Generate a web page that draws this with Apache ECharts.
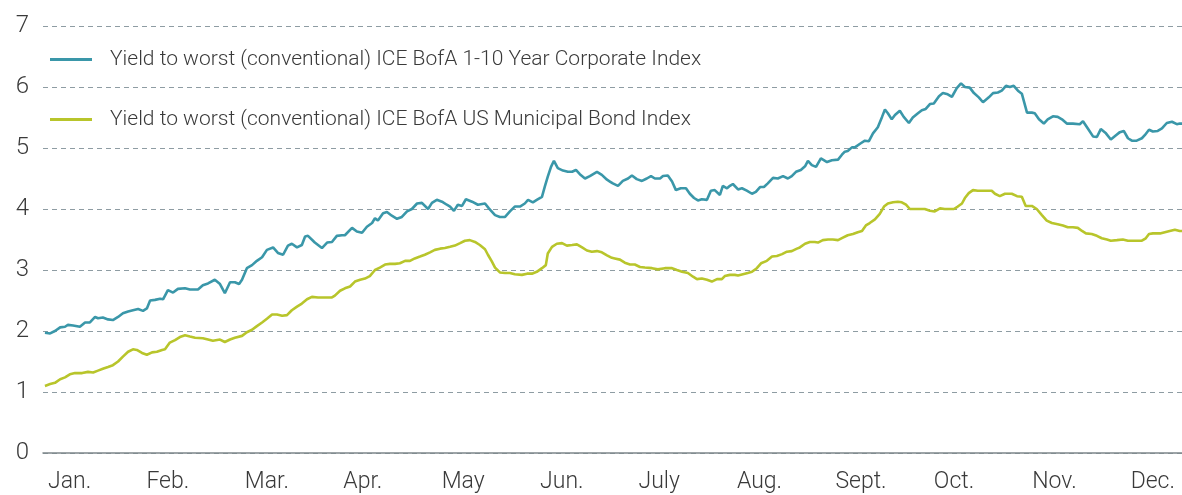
<!DOCTYPE html>
<html>
<head>
<meta charset="utf-8">
<script src="https://cdn.jsdelivr.net/npm/echarts@6/dist/echarts.min.js"></script>
<style>
html, body { margin: 0; padding: 0; background: #fff; }
#chart { width: 1182px; height: 495px; }
</style>
</head>
<body>
<div id="chart"></div>
<script>
// month labels, one per twelfth of the year (day of year)
var months = ['Jan.', 'Feb.', 'Mar.', 'Apr.', 'May', 'Jun.', 'July', 'Aug.', 'Sept.', 'Oct.', 'Nov.', 'Dec.'];
var monthLen = 365 / 12;
var monthTicks = months.map(function(m, i) { return i * monthLen; });
var yTicks = [0, 1, 2, 3, 4, 5, 6, 7];

var names = [
	'Yield to worst (conventional) ICE BofA 1-10 Year Corporate Index',
	'Yield to worst (conventional) ICE BofA US Municipal Bond Index'
];

// [day of year, yield %]
var corpYield = [[0.6,1.97],[2.2,1.96],[3.7,2.00],[5.3,2.06],[6.8,2.07],[7.7,2.10],[9.3,2.09],[11.4,2.07],[13.0,2.14],[14.5,2.14],[16.1,2.23],[17.0,2.21],[18.5,2.22],[20.1,2.19],[21.6,2.18],[23.2,2.23],[24.7,2.29],[26.3,2.32],[27.8,2.34],[29.4,2.36],[30.9,2.33],[32.1,2.37],[33.1,2.50],[34.6,2.51],[36.2,2.53],[37.1,2.52],[38.6,2.67],[40.2,2.63],[41.7,2.69],[43.9,2.70],[45.4,2.68],[47.9,2.68],[49.4,2.75],[51.0,2.78],[53.1,2.84],[54.7,2.77],[56.2,2.62],[57.8,2.80],[59.3,2.80],[60.6,2.77],[61.5,2.84],[63.0,3.03],[64.6,3.08],[66.1,3.15],[67.7,3.21],[69.2,3.33],[71.1,3.37],[72.6,3.28],[74.2,3.25],[75.7,3.40],[76.9,3.43],[78.5,3.37],[80.0,3.41],[81.0,3.55],[81.9,3.56],[84.0,3.45],[86.2,3.36],[87.8,3.45],[89.3,3.46],[90.8,3.56],[92.4,3.57],[93.3,3.57],[95.5,3.69],[97.0,3.63],[98.6,3.61],[100.1,3.71],[101.7,3.77],[102.6,3.85],[103.5,3.81],[105.1,3.93],[106.3,3.95],[107.8,3.89],[109.4,3.84],[110.9,3.87],[112.5,3.96],[114.0,4.00],[115.6,4.09],[117.1,4.10],[119.0,4.00],[120.2,4.10],[121.7,4.15],[123.3,4.12],[124.8,4.07],[125.8,4.04],[127.0,3.97],[128.2,4.07],[129.5,4.05],[130.7,4.16],[132.6,4.12],[134.4,4.07],[136.6,4.09],[137.8,4.01],[139.7,3.90],[141.2,3.87],[142.8,3.87],[144.3,3.96],[145.8,4.04],[147.4,4.04],[148.9,4.09],[149.9,4.15],[151.4,4.11],[152.6,4.15],[154.2,4.20],[155.1,4.37],[156.0,4.53],[157.0,4.69],[157.9,4.79],[159.1,4.67],[160.7,4.63],[162.2,4.61],[163.5,4.61],[164.7,4.64],[165.9,4.57],[167.5,4.50],[169.0,4.54],[171.2,4.61],[172.7,4.56],[174.3,4.48],[175.2,4.45],[176.1,4.42],[177.7,4.38],[179.2,4.46],[180.8,4.50],[182.0,4.55],[183.5,4.49],[185.1,4.46],[186.6,4.50],[187.9,4.54],[189.1,4.50],[190.7,4.50],[191.6,4.54],[193.1,4.55],[194.4,4.45],[195.6,4.31],[197.1,4.34],[198.7,4.34],[199.9,4.25],[201.2,4.18],[202.4,4.14],[203.6,4.16],[205.2,4.15],[206.4,4.30],[207.6,4.31],[209.2,4.23],[210.1,4.38],[211.4,4.34],[212.3,4.38],[213.2,4.41],[214.8,4.32],[216.0,4.34],[217.5,4.30],[219.1,4.25],[220.3,4.28],[221.6,4.36],[222.8,4.36],[224.0,4.42],[225.6,4.51],[227.1,4.50],[228.7,4.54],[230.2,4.50],[231.4,4.54],[232.7,4.61],[234.2,4.64],[235.5,4.70],[236.4,4.79],[237.6,4.72],[238.9,4.69],[240.4,4.83],[242.3,4.77],[243.8,4.80],[245.7,4.81],[246.9,4.89],[247.8,4.94],[248.7,4.95],[250.0,5.01],[250.9,5.01],[252.5,5.07],[254.0,5.12],[255.2,5.11],[256.5,5.24],[258.0,5.34],[259.3,5.51],[260.2,5.63],[261.1,5.57],[262.3,5.47],[263.3,5.54],[264.8,5.61],[266.0,5.51],[267.6,5.41],[268.8,5.50],[270.4,5.57],[271.6,5.62],[272.8,5.64],[274.1,5.72],[275.3,5.73],[276.9,5.85],[278.1,5.90],[279.6,5.88],[280.9,5.84],[282.4,5.98],[283.7,6.06],[284.9,6.00],[286.4,5.99],[287.7,5.90],[289.2,5.83],[290.5,5.75],[292.3,5.83],[293.6,5.90],[295.1,5.91],[296.3,5.94],[297.6,6.02],[298.8,6.00],[300.0,6.02],[301.3,5.94],[302.5,5.89],[304.1,5.58],[305.6,5.58],[306.5,5.57],[307.8,5.47],[309.3,5.40],[310.5,5.47],[312.1,5.52],[313.6,5.51],[314.9,5.47],[316.4,5.40],[318.3,5.40],[320.4,5.39],[321.4,5.44],[322.9,5.32],[324.5,5.19],[325.7,5.18],[326.9,5.31],[328.5,5.24],[330.0,5.14],[331.6,5.21],[332.8,5.26],[334.0,5.28],[335.3,5.16],[336.5,5.12],[338.0,5.12],[339.6,5.16],[340.5,5.21],[341.8,5.30],[343.0,5.27],[344.5,5.28],[345.8,5.32],[347.3,5.41],[348.9,5.43],[350.4,5.39],[351.3,5.40],[352.0,5.40]];

var muniYield = [[0.6,1.10],[2.2,1.13],[3.7,1.15],[5.3,1.21],[6.8,1.24],[8.3,1.29],[9.9,1.31],[12.1,1.31],[13.9,1.33],[15.5,1.32],[17.0,1.35],[18.5,1.38],[20.1,1.41],[21.6,1.44],[23.2,1.50],[24.7,1.58],[26.3,1.66],[27.8,1.70],[29.0,1.69],[30.6,1.64],[32.1,1.61],[33.7,1.65],[35.2,1.66],[36.8,1.69],[37.7,1.70],[39.2,1.81],[40.8,1.85],[42.3,1.90],[43.9,1.93],[45.4,1.91],[47.0,1.89],[49.4,1.88],[51.0,1.86],[52.5,1.84],[54.7,1.86],[56.2,1.82],[57.8,1.86],[59.3,1.89],[61.5,1.92],[63.0,1.98],[64.6,2.02],[66.1,2.08],[67.7,2.14],[69.2,2.20],[70.8,2.27],[72.3,2.27],[73.9,2.25],[75.4,2.26],[76.9,2.34],[78.5,2.40],[80.0,2.45],[81.6,2.52],[83.1,2.56],[83.7,2.59],[85.0,2.55],[87.1,2.55],[89.3,2.55],[90.2,2.58],[91.8,2.66],[93.3,2.70],[94.9,2.73],[96.4,2.81],[98.0,2.84],[99.5,2.86],[101.0,2.90],[102.6,3.00],[104.1,3.04],[105.7,3.09],[107.2,3.10],[108.8,3.10],[110.3,3.11],[111.9,3.15],[113.4,3.15],[114.9,3.19],[116.5,3.22],[118.0,3.25],[119.6,3.29],[121.1,3.33],[122.7,3.35],[124.2,3.36],[125.8,3.38],[127.3,3.40],[128.9,3.44],[130.4,3.48],[131.9,3.49],[133.5,3.46],[135.0,3.41],[136.6,3.34],[137.5,3.25],[138.7,3.14],[139.7,3.04],[141.2,2.96],[142.8,2.95],[144.3,2.95],[145.8,2.93],[148.0,2.92],[149.6,2.94],[151.1,2.94],[152.6,2.97],[154.2,3.03],[155.4,3.08],[156.0,3.27],[157.3,3.38],[158.8,3.43],[160.4,3.44],[161.9,3.40],[163.5,3.41],[165.0,3.42],[166.6,3.37],[168.1,3.32],[169.6,3.30],[171.2,3.31],[172.7,3.29],[174.3,3.24],[175.8,3.20],[176.7,3.19],[178.3,3.17],[179.8,3.12],[181.4,3.09],[182.9,3.09],[184.5,3.05],[186.0,3.04],[188.2,3.03],[190.0,3.01],[192.2,3.03],[194.4,3.03],[195.9,3.00],[197.5,2.97],[199.3,2.95],[200.9,2.89],[202.1,2.85],[203.6,2.86],[205.2,2.84],[206.7,2.81],[208.3,2.85],[209.8,2.85],[210.7,2.90],[212.3,2.92],[213.8,2.92],[214.8,2.91],[216.3,2.93],[217.8,2.95],[219.1,2.97],[220.6,3.03],[221.9,3.11],[223.7,3.15],[225.3,3.22],[226.8,3.23],[228.4,3.26],[229.9,3.30],[231.4,3.31],[233.0,3.35],[233.9,3.37],[235.5,3.43],[237.0,3.46],[238.5,3.46],[239.5,3.45],[241.0,3.49],[242.6,3.50],[244.1,3.50],[245.7,3.49],[247.2,3.53],[248.7,3.57],[250.3,3.59],[251.8,3.62],[253.1,3.64],[254.3,3.73],[255.5,3.77],[257.1,3.83],[258.6,3.92],[259.9,4.04],[261.1,4.09],[262.7,4.11],[264.2,4.12],[265.4,4.11],[266.7,4.07],[267.9,4.00],[269.4,4.00],[271.0,4.00],[272.5,4.00],[274.1,3.97],[275.6,3.96],[277.2,4.01],[278.7,4.00],[280.3,4.00],[281.5,4.00],[282.7,4.04],[284.0,4.09],[284.9,4.18],[286.1,4.26],[287.4,4.31],[288.9,4.30],[290.5,4.30],[292.0,4.30],[293.2,4.30],[294.2,4.25],[295.7,4.21],[297.3,4.25],[299.4,4.25],[301.0,4.21],[302.5,4.20],[303.7,4.05],[305.6,4.05],[307.1,4.00],[308.7,3.90],[310.2,3.81],[311.8,3.77],[313.6,3.75],[315.2,3.73],[316.7,3.70],[318.3,3.70],[319.8,3.69],[321.1,3.64],[322.3,3.60],[324.1,3.59],[325.7,3.56],[327.2,3.52],[328.8,3.50],[330.0,3.48],[331.9,3.49],[333.7,3.50],[335.3,3.48],[337.4,3.48],[339.6,3.48],[340.8,3.52],[341.8,3.59],[343.0,3.60],[345.2,3.60],[346.7,3.62],[348.2,3.64],[349.8,3.66],[351.3,3.64],[352.0,3.64]];

var colors = ['#3a97a9', '#b8c52b'];
var font = 'Roboto, "Open Sans", "DejaVu Sans", sans-serif';
var textColor = '#3a3a3a';

var chart = echarts.init(document.getElementById('chart'));

chart.setOption({
	animation : false,
	color : colors,
	grid : {
		left : 43,
		right : 0,
		top : 26,
		bottom : 42
	},
	legend : {
		orient : 'vertical',
		left : 45,
		top : 44,
		icon : 'rect',
		itemWidth : 42,
		itemHeight : 3,
		itemGap : 39,
		textStyle : {
			fontFamily : font,
			fontSize : 21,
			fontWeight : 300,
			color : textColor,
			padding : [0, 0, 0, 13]
		},
		data : names
	},
	xAxis : {
		type : 'value',
		min : 0,
		max : 352,
		axisLine : {
			show : true,
			lineStyle : { color : '#7d878b', width : 1.5 }
		},
		axisTick : { show : false },
		splitLine : { show : false },
		axisLabel : {
			customValues : monthTicks,
			formatter : function(v) {
				return months[Math.round(v / monthLen)] || '';
			},
			align : 'left',
			margin : 18,
			padding : [0, 0, 0, 5],
			fontFamily : font,
			fontSize : 23,
			fontWeight : 300,
			color : textColor
		}
	},
	yAxis : {
		type : 'value',
		min : yTicks[0],
		max : yTicks[yTicks.length - 1],
		interval : 1,
		axisLine : { show : false },
		axisTick : { show : false },
		splitLine : {
			lineStyle : { color : '#8e9ca3', type : [5, 4], width : 1 }
		},
		axisLabel : {
			margin : 14,
			fontFamily : font,
			fontSize : 24,
			fontWeight : 300,
			color : textColor
		}
	},
	series : [ {
		name : names[0],
		type : 'line',
		data : corpYield,
		showSymbol : false,
		lineStyle : { width : 2.6, color : colors[0] }
	}, {
		name : names[1],
		type : 'line',
		data : muniYield,
		showSymbol : false,
		lineStyle : { width : 2.6, color : colors[1] }
	} ]
});
</script>
</body>
</html>
